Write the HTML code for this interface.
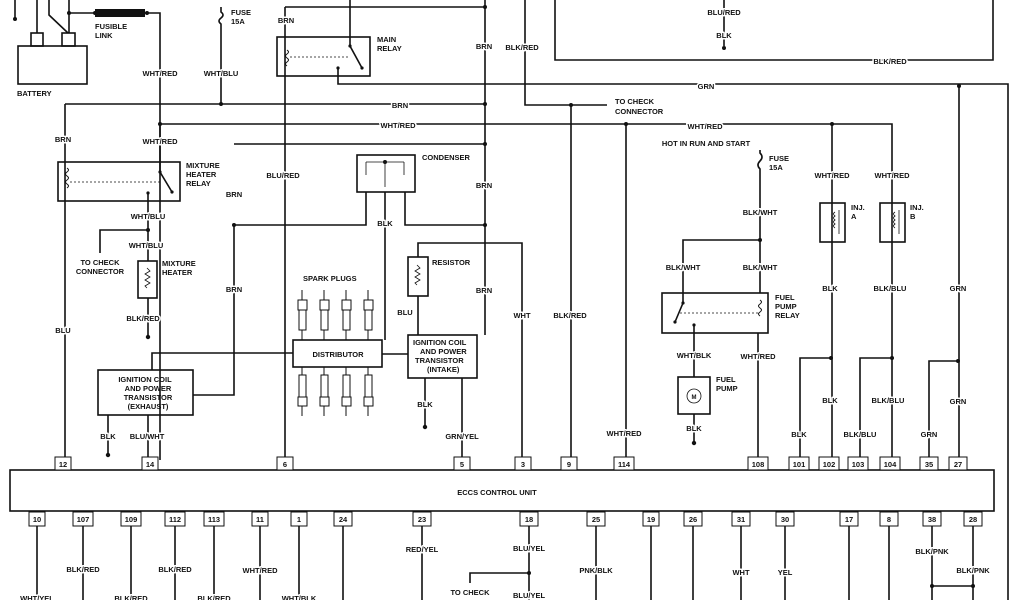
<!DOCTYPE html>
<html><head><meta charset="utf-8"><style>
html,body{margin:0;padding:0;background:#fff}
svg{display:block}
text{font-family:"Liberation Sans",sans-serif;font-weight:bold;font-size:7.5px;fill:#111;paint-order:stroke;stroke:#fff;stroke-width:3px;stroke-linejoin:round}
.n{stroke:none}
.c{text-anchor:middle}
</style></head><body>
<svg width="1024" height="600" viewBox="0 0 1024 600" xmlns="http://www.w3.org/2000/svg">
<g fill="none" stroke="#111" stroke-width="1.6">
<!-- battery -->
<rect x="18" y="46" width="69" height="38"/>
<rect x="31" y="33" width="12" height="13"/>
<rect x="62" y="33" width="13" height="13"/>
<path d="M37 33V0M49 0V15L68 33M69 33V0M15 0V18M69 13H160V460"/>
<!-- fuse 15A -->
<path d="M221 7V12Q225 15 221 18Q217 21 221 24V104"/>
<!-- BRN y104 -->
<path d="M65 104H485M65 104V460"/>
<!-- WHT/RED y124 -->
<path d="M160 124H892V205M832 124V205M626 124V460"/>
<!-- main relay -->
<rect x="277" y="37" width="93" height="39"/>
<path d="M285 7H485M285 7V460M485 0V225M350 0V46L362 68M338 68V84H1008V600M959 86V460"/>
<path d="M287 50q3 2 0 4q-3 2 0 4q3 2 0 4q-3 2 0 4" stroke-width="1"/>
<path d="M290 57H350" stroke-dasharray="2 2" stroke-width="0.8"/>
<!-- top right box -->
<path d="M555 0V60H993V0M724 0V46"/>
<!-- check connector -->
<path d="M525 0V105H607M571 105V460"/>
<!-- mixture heater relay -->
<rect x="58" y="162" width="122" height="39"/>
<path d="M160 124V172L172 192M148 193V253M148 230H100V253"/>
<path d="M67 168q3 2 0 4q-3 2 0 4q3 2 0 4q-3 2 0 4q3 2 0 4" stroke-width="1"/>
<path d="M70 182H160" stroke-dasharray="2 2" stroke-width="0.8"/>
<rect x="138" y="261" width="19" height="37"/>
<path d="M148 253V261M148 298V337"/>
<path d="M147 268l3 3l-5 3l5 3l-5 3l5 3l-5 3l2 2" stroke-width="0.8"/>
<!-- condenser -->
<rect x="357" y="155" width="58" height="37"/>
<path d="M366 162H404M366 162V175M404 162V175M385 162V187" stroke-width="0.8"/>
<path d="M366 192V225H234V395H193M385 192V340M405 192V225H485M234 144H485"/>
<!-- distributor / plugs -->
<rect x="293" y="340" width="89" height="27"/>
<path d="M293 353H152V370M382 354H408"/>
<g stroke-width="1">
<rect x="298" y="300" width="9" height="10"/><rect x="299" y="310" width="7" height="20"/><path d="M302 290v10M302 330v10"/>
<rect x="320" y="300" width="9" height="10"/><rect x="321" y="310" width="7" height="20"/><path d="M324 290v10M324 330v10"/>
<rect x="342" y="300" width="9" height="10"/><rect x="343" y="310" width="7" height="20"/><path d="M346 290v10M346 330v10"/>
<rect x="364" y="300" width="9" height="10"/><rect x="365" y="310" width="7" height="20"/><path d="M368 290v10M368 330v10"/>
<rect x="299" y="375" width="7" height="22"/><rect x="298" y="397" width="9" height="9"/><path d="M302 367v8M302 406v10"/>
<rect x="321" y="375" width="7" height="22"/><rect x="320" y="397" width="9" height="9"/><path d="M324 367v8M324 406v10"/>
<rect x="343" y="375" width="7" height="22"/><rect x="342" y="397" width="9" height="9"/><path d="M346 367v8M346 406v10"/>
<rect x="365" y="375" width="7" height="22"/><rect x="364" y="397" width="9" height="9"/><path d="M368 367v8M368 406v10"/>
</g>
<!-- resistor / intake coil -->
<rect x="408" y="257" width="20" height="39"/>
<path d="M418 257V243H522V460M418 296V335M485 225V335M425 378V427M462 378V460"/>
<path d="M417 265l3 3l-5 3l5 3l-5 3l5 3l-5 3l2 2" stroke-width="0.8"/>
<rect x="408" y="335" width="69" height="43"/>
<!-- exhaust coil -->
<rect x="98" y="370" width="95" height="45"/>
<path d="M108 415V455M148 415V460"/>
<!-- fuel pump relay -->
<path d="M760 150V153Q764 157 760 161Q756 165 760 169V293M760 240H683V303M683 303L675 322M694 325V377M694 414V443M758 333V460"/>
<rect x="662" y="293" width="106" height="40"/>
<path d="M760 300q3 2 0 4q-3 2 0 4q3 2 0 4q-3 2 0 4" stroke-width="1"/>
<path d="M680 313H758" stroke-dasharray="2 2" stroke-width="0.8"/>
<rect x="678" y="377" width="32" height="37"/>
<circle cx="694" cy="396" r="7" stroke-width="0.8"/>
<!-- injectors -->
<rect x="820" y="203" width="25" height="39"/>
<rect x="880" y="203" width="25" height="39"/>
<path d="M832 205V460M892 205V460M831 358H800V460M892 358H860V460M958 361H929V460"/>
<path d="M835 212q-3 2 0 4q-3 2 0 4q-3 2 0 4q-3 2 0 4M839 210V234M895 212q-3 2 0 4q-3 2 0 4q-3 2 0 4q-3 2 0 4M899 210V234" stroke-width="0.8"/>
<!-- ECCS -->
<rect x="10" y="470" width="984" height="41"/>
<!-- bottom wires -->
<path d="M37 526V600M83 526V600M131 526V600M175 526V600M214 526V600M260 526V600M299 526V600M343 526V600M422 526V600M529 526V600M529 573H470V583M596 526V600M651 526V600M693 526V600M741 526V600M785 526V600M849 526V600M889 526V600M932 526V600M973 526V600M932 586H973"/>
</g>
<!-- pins -->
<g fill="#fff" stroke="#111" stroke-width="1">
<rect x="55" y="457" width="16" height="13"/><rect x="142" y="457" width="16" height="13"/><rect x="277" y="457" width="16" height="13"/><rect x="454" y="457" width="16" height="13"/><rect x="515" y="457" width="16" height="13"/><rect x="561" y="457" width="16" height="13"/><rect x="614" y="457" width="20" height="13"/><rect x="748" y="457" width="20" height="13"/><rect x="789" y="457" width="20" height="13"/><rect x="819" y="457" width="20" height="13"/><rect x="848" y="457" width="20" height="13"/><rect x="880" y="457" width="20" height="13"/><rect x="920" y="457" width="18" height="13"/><rect x="949" y="457" width="18" height="13"/>
<rect x="29" y="512" width="16" height="14"/><rect x="73" y="512" width="20" height="14"/><rect x="121" y="512" width="20" height="14"/><rect x="165" y="512" width="20" height="14"/><rect x="204" y="512" width="20" height="14"/><rect x="252" y="512" width="16" height="14"/><rect x="291" y="512" width="16" height="14"/><rect x="334" y="512" width="18" height="14"/><rect x="413" y="512" width="18" height="14"/><rect x="520" y="512" width="18" height="14"/><rect x="587" y="512" width="18" height="14"/><rect x="643" y="512" width="16" height="14"/><rect x="684" y="512" width="18" height="14"/><rect x="732" y="512" width="18" height="14"/><rect x="776" y="512" width="18" height="14"/><rect x="840" y="512" width="18" height="14"/><rect x="880" y="512" width="18" height="14"/><rect x="923" y="512" width="18" height="14"/><rect x="964" y="512" width="18" height="14"/>
</g>
<!-- dots -->
<g fill="#111">
<circle cx="69" cy="13" r="2"/><circle cx="95" cy="13" r="2"/><circle cx="147" cy="13" r="2"/><circle cx="15" cy="19" r="2"/>
<rect x="95" y="9" width="50" height="8"/>
<circle cx="221" cy="104" r="2"/><circle cx="485" cy="104" r="2"/><circle cx="160" cy="124" r="2"/><circle cx="626" cy="124" r="2"/><circle cx="832" cy="124" r="2"/>
<circle cx="485" cy="7" r="2"/><circle cx="485" cy="144" r="2"/><circle cx="485" cy="225" r="2"/><circle cx="234" cy="225" r="2"/><circle cx="385" cy="162" r="2"/>
<circle cx="571" cy="105" r="2"/><circle cx="959" cy="86" r="2"/><circle cx="724" cy="48" r="2"/>
<circle cx="148" cy="230" r="2"/><circle cx="148" cy="337" r="2.2"/><circle cx="108" cy="455" r="2.2"/><circle cx="425" cy="427" r="2.2"/><circle cx="694" cy="443" r="2.2"/>
<circle cx="760" cy="240" r="2"/><circle cx="831" cy="358" r="2"/><circle cx="892" cy="358" r="2"/><circle cx="958" cy="361" r="2"/>
<circle cx="529" cy="573" r="2"/><circle cx="932" cy="586" r="2"/><circle cx="973" cy="586" r="2"/>
<circle cx="160" cy="172" r="1.6"/><circle cx="172" cy="192" r="1.6"/><circle cx="148" cy="193" r="1.6"/><circle cx="350" cy="46" r="1.6"/><circle cx="362" cy="68" r="1.6"/><circle cx="338" cy="68" r="1.6"/><circle cx="683" cy="303" r="1.6"/><circle cx="675" cy="322" r="1.6"/><circle cx="694" cy="325" r="1.6"/>
</g>
<!-- labels -->
<text class="n" x="95" y="29">FUSIBLE</text><text class="n" x="95" y="38">LINK</text>
<text class="n" x="17" y="96">BATTERY</text>
<text class="n" x="231" y="15">FUSE</text><text class="n" x="231" y="24">15A</text>
<text class="c" x="160" y="76">WHT/RED</text><text class="c" x="221" y="76">WHT/BLU</text>
<text class="c" x="286" y="23">BRN</text><text class="n" x="377" y="42">MAIN</text><text class="n" x="377" y="51">RELAY</text>
<text class="c" x="484" y="49">BRN</text><text class="c" x="522" y="50">BLK/RED</text>
<text class="c" x="724" y="15">BLU/RED</text><text class="c" x="724" y="38">BLK</text><text class="c" x="890" y="64">BLK/RED</text>
<text class="c" x="706" y="89">GRN</text>
<text class="c" x="400" y="108">BRN</text><text class="c" x="398" y="128">WHT/RED</text><text class="c" x="705" y="129">WHT/RED</text>
<text class="n" x="615" y="104">TO CHECK</text><text class="n" x="615" y="114">CONNECTOR</text>
<text class="c" x="63" y="142">BRN</text><text class="c" x="160" y="144">WHT/RED</text>
<text class="n" x="186" y="168">MIXTURE</text><text class="n" x="186" y="177">HEATER</text><text class="n" x="186" y="186">RELAY</text>
<text class="c" x="148" y="219">WHT/BLU</text><text class="c" x="146" y="248">WHT/BLU</text>
<text class="c" x="100" y="265">TO CHECK</text><text class="c" x="100" y="274">CONNECTOR</text>
<text class="n" x="162" y="266">MIXTURE</text><text class="n" x="162" y="275">HEATER</text>
<text class="c" x="143" y="321">BLK/RED</text><text class="c" x="63" y="333">BLU</text>
<text class="c" x="234" y="197">BRN</text><text class="c" x="283" y="178">BLU/RED</text><text class="c" x="234" y="292">BRN</text>
<text class="n" x="422" y="160">CONDENSER</text><text class="c" x="484" y="188">BRN</text><text class="c" x="385" y="226">BLK</text>
<text class="n" x="303" y="281">SPARK PLUGS</text><text class="n c" x="338" y="357">DISTRIBUTOR</text>
<text class="n" x="432" y="265">RESISTOR</text><text class="c" x="405" y="315">BLU</text><text class="c" x="484" y="293">BRN</text><text class="c" x="522" y="318">WHT</text><text class="c" x="570" y="318">BLK/RED</text>
<text class="n" x="413" y="345">IGNITION COIL</text><text class="n" x="420" y="354">AND POWER</text><text class="n" x="415" y="363">TRANSISTOR</text><text class="n" x="427" y="372">(INTAKE)</text>
<text class="n c" x="145" y="382">IGNITION COIL</text><text class="n c" x="148" y="391">AND POWER</text><text class="n c" x="148" y="400">TRANSISTOR</text><text class="n c" x="148" y="409">(EXHAUST)</text>
<text class="c" x="108" y="439">BLK</text><text class="c" x="147" y="439">BLU/WHT</text><text class="c" x="425" y="407">BLK</text><text class="c" x="462" y="439">GRN/YEL</text>
<text class="c" x="624" y="436">WHT/RED</text>
<text class="c" x="706" y="146">HOT IN RUN AND START</text><text class="n" x="769" y="161">FUSE</text><text class="n" x="769" y="170">15A</text>
<text class="c" x="760" y="215">BLK/WHT</text><text class="c" x="683" y="270">BLK/WHT</text><text class="c" x="760" y="270">BLK/WHT</text>
<text class="n" x="775" y="300">FUEL</text><text class="n" x="775" y="309">PUMP</text><text class="n" x="775" y="318">RELAY</text>
<text class="c" x="694" y="358">WHT/BLK</text><text class="c" x="758" y="359">WHT/RED</text>
<text class="n" x="716" y="382">FUEL</text><text class="n" x="716" y="391">PUMP</text><text class="n c" x="694" y="399" style="font-size:6px">M</text>
<text class="c" x="694" y="431">BLK</text>
<text class="c" x="832" y="178">WHT/RED</text><text class="c" x="892" y="178">WHT/RED</text>
<text class="n" x="851" y="210">INJ.</text><text class="n" x="851" y="219">A</text><text class="n" x="910" y="210">INJ.</text><text class="n" x="910" y="219">B</text>
<text class="c" x="830" y="291">BLK</text><text class="c" x="890" y="291">BLK/BLU</text><text class="c" x="958" y="291">GRN</text>
<text class="c" x="830" y="403">BLK</text><text class="c" x="888" y="403">BLK/BLU</text><text class="c" x="958" y="404">GRN</text>
<text class="c" x="799" y="437">BLK</text><text class="c" x="860" y="437">BLK/BLU</text><text class="c" x="929" y="437">GRN</text>
<text class="n c" x="497" y="495">ECCS CONTROL UNIT</text>
<g class="pn">
<text class="n c" x="63" y="467">12</text><text class="n c" x="150" y="467">14</text><text class="n c" x="285" y="467">6</text><text class="n c" x="462" y="467">5</text><text class="n c" x="523" y="467">3</text><text class="n c" x="569" y="467">9</text><text class="n c" x="624" y="467">114</text><text class="n c" x="758" y="467">108</text><text class="n c" x="799" y="467">101</text><text class="n c" x="829" y="467">102</text><text class="n c" x="858" y="467">103</text><text class="n c" x="890" y="467">104</text><text class="n c" x="929" y="467">35</text><text class="n c" x="958" y="467">27</text>
<text class="n c" x="37" y="522">10</text><text class="n c" x="83" y="522">107</text><text class="n c" x="131" y="522">109</text><text class="n c" x="175" y="522">112</text><text class="n c" x="214" y="522">113</text><text class="n c" x="260" y="522">11</text><text class="n c" x="299" y="522">1</text><text class="n c" x="343" y="522">24</text><text class="n c" x="422" y="522">23</text><text class="n c" x="529" y="522">18</text><text class="n c" x="596" y="522">25</text><text class="n c" x="651" y="522">19</text><text class="n c" x="693" y="522">26</text><text class="n c" x="741" y="522">31</text><text class="n c" x="785" y="522">30</text><text class="n c" x="849" y="522">17</text><text class="n c" x="889" y="522">8</text><text class="n c" x="932" y="522">38</text><text class="n c" x="973" y="522">28</text>
</g>
<text class="c" x="37" y="601">WHT/YEL</text><text class="c" x="83" y="572">BLK/RED</text><text class="c" x="131" y="601">BLK/RED</text><text class="c" x="175" y="572">BLK/RED</text><text class="c" x="214" y="601">BLK/RED</text><text class="c" x="260" y="573">WHT/RED</text><text class="c" x="299" y="601">WHT/BLK</text>
<text class="c" x="422" y="552">RED/YEL</text><text class="c" x="529" y="551">BLU/YEL</text><text class="c" x="470" y="595">TO CHECK</text><text class="c" x="529" y="598">BLU/YEL</text>
<text class="c" x="596" y="573">PNK/BLK</text><text class="c" x="741" y="575">WHT</text><text class="c" x="785" y="575">YEL</text><text class="c" x="932" y="554">BLK/PNK</text><text class="c" x="973" y="573">BLK/PNK</text>
</svg>
</body></html>
